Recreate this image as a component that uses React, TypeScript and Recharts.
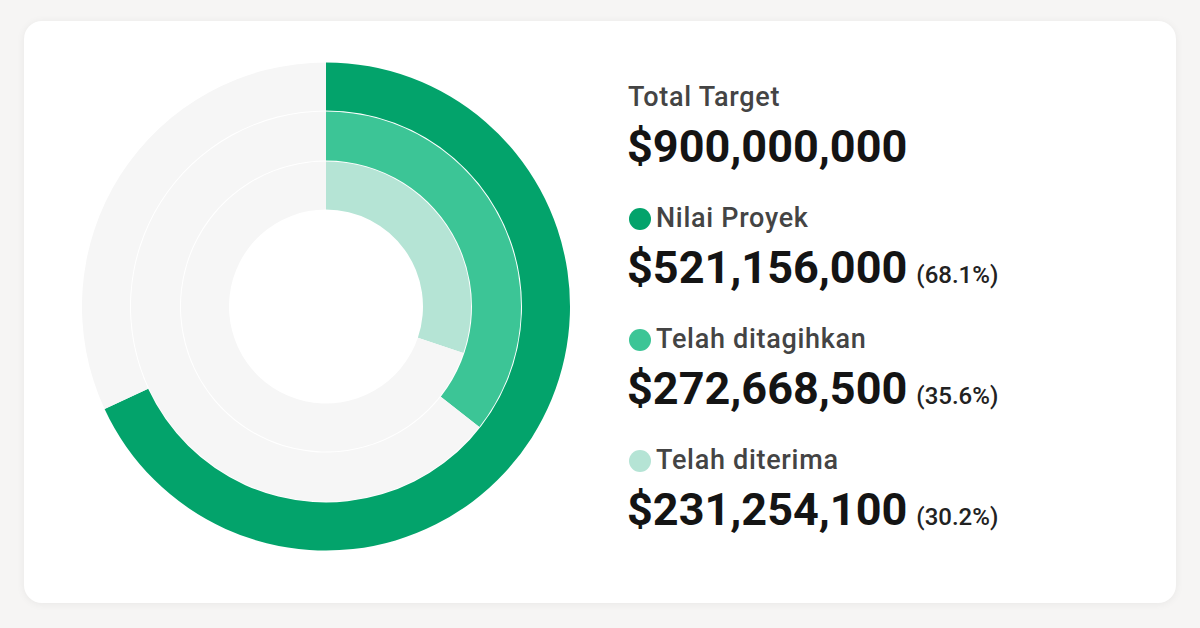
import React from "react";
import { PieChart, Pie, Cell } from "recharts";

const series = ["Nilai Proyek", "Telah ditagihkan", "Telah diterima"];
const amounts = ["$521,156,000", "$272,668,500", "$231,254,100"];
const percents = [68.1, 35.6, 30.2];
const colors = ["#03a36b", "#3cc596", "#b5e4d5"];
const totalLabel = "Total Target";
const totalAmount = "$900,000,000";

const TRACK = "#f6f6f6";
// inner/outer radius per ring, outermost first
const RINGS = [
  [196, 244],
  [146, 195],
  [97, 145],
];

const FONT = "Roboto, 'Noto Sans', sans-serif";

// top offset so the text baseline lands at y (line-height 1)
const topFor = (baseline: number, size: number) => baseline - 0.8415 * size;

const labelStyle = {
  position: "absolute" as const,
  fontSize: 27,
  lineHeight: 1,
  fontWeight: 500,
  letterSpacing: 0.7,
  color: "#444444",
  whiteSpace: "nowrap" as const,
};

const valueStyle = {
  position: "absolute" as const,
  left: 627,
  fontSize: 45,
  lineHeight: 1,
  fontWeight: 700,
  color: "#141414",
  whiteSpace: "nowrap" as const,
};

export default function App() {
  return (
    <div
      style={{
        position: "absolute",
        left: 0,
        top: 0,
        width: 1200,
        height: 628,
        background: "#f6f5f4",
        fontFamily: FONT,
      }}
    >
      <div
        style={{
          position: "absolute",
          left: 24,
          top: 21,
          width: 1152,
          height: 582,
          background: "#ffffff",
          borderRadius: 18,
          boxShadow: "0 1px 8px rgba(0,0,0,0.06)",
        }}
      />
      <div style={{ position: "absolute", left: 71, top: 51 }}>
        <PieChart width={510} height={510}>
          {percents.map((p, i) => (
            <Pie
              key={series[i]}
              data={[
                { name: series[i], value: p },
                { name: "rest", value: 100 - p },
              ]}
              dataKey="value"
              cx={250}
              cy={250.5}
              innerRadius={RINGS[i][0]}
              outerRadius={RINGS[i][1]}
              startAngle={90}
              endAngle={-270}
              stroke="none"
              isAnimationActive={false}
            >
              <Cell fill={colors[i]} />
              <Cell fill={TRACK} />
            </Pie>
          ))}
        </PieChart>
      </div>

      <div style={{ ...labelStyle, left: 628, top: topFor(107, 27) }}>
        {totalLabel}
      </div>
      <div style={{ ...valueStyle, top: topFor(162, 45) }}>{totalAmount}</div>

      {series.map((s, i) => {
        const labelBase = 228 + i * 121;
        const valueBase = 283 + i * 121;
        return (
          <React.Fragment key={s}>
            <div
              style={{
                position: "absolute",
                left: 629,
                top: labelBase - 9.5 - 11,
                width: 22,
                height: 22,
                borderRadius: "50%",
                background: colors[i],
              }}
            />
            <div style={{ ...labelStyle, left: 656, top: topFor(labelBase, 27) }}>
              {s}
            </div>
            <div style={{ ...valueStyle, top: topFor(valueBase, 45) }}>
              {amounts[i]}
              <span
                style={{
                  fontSize: 24,
                  fontWeight: 500,
                  color: "#222222",
                  marginLeft: 9,
                }}
              >
                ({percents[i].toFixed(1)}%)
              </span>
            </div>
          </React.Fragment>
        );
      })}
    </div>
  );
}
